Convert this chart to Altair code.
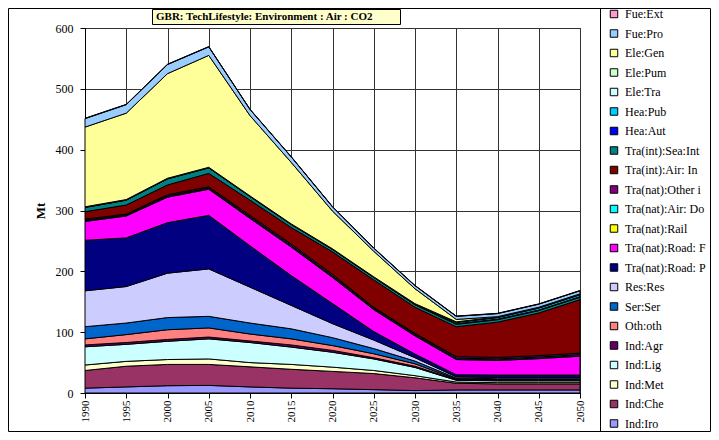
import altair as alt
import pandas as pd

years = [1990, 1995, 2000, 2005, 2010, 2015, 2020, 2025, 2030, 2035, 2040, 2045, 2050]

# series, bottom of the stack first
ind_iro = [8, 10, 12, 12.5, 10, 8, 7, 5.5, 4, 5, 5, 5, 5]
ind_che = [29, 34, 35, 34.5, 33, 31, 28.5, 26.5, 21, 11, 10, 10, 10]
ind_met = [9, 8, 8, 9, 7, 8, 7, 5, 3.5, 2, 2, 2, 2]
ind_lig = [30, 28, 30, 33, 33, 28.5, 24.5, 19, 13.5, 3, 3, 3, 3]
ind_agr = [3, 3, 3, 3, 2.5, 3.5, 3, 2, 2, 1, 1, 1, 1]
oth_oth = [10, 13, 16, 15, 11.5, 10, 8, 6.5, 4, 1, 1, 1, 1]
ser_ser = [20, 19, 20, 19, 18, 16.5, 13, 8.5, 4.5, 1.5, 1.5, 1.5, 1.5]
res_res = [59, 60, 73, 78, 59, 38.5, 23, 14, 5.5, 2, 2, 2, 2]
road_p = [83, 80, 83, 88, 68, 49, 33, 14, 6, 3.5, 4, 4, 4]
road_f = [31, 36, 42, 43, 45, 47, 43, 36, 30, 25, 24, 27, 31]
rail = [1, 1, 1, 1, 1, 1, 1, 1, 1, 1, 1, 1, 1]
air_do = [1, 1, 1, 1, 1.5, 1.5, 1.5, 1.5, 1.5, 1.5, 1.5, 1.5, 1.5]
other_i = [2, 1, 2, 2, 2.5, 2.5, 2.5, 1.5, 1.5, 2.5, 2.5, 2.5, 2.5]
air_in = [12, 15, 16, 22, 25, 27, 37, 45, 43, 49, 58, 70, 88]
sea_int = [7, 8, 10, 9, 6, 5, 4, 4, 4, 4, 4, 4, 4]
hea_aut = [0.3, 0.3, 0.3, 0.3, 0.3, 0.3, 0.3, 0.3, 0.5, 1, 1, 1, 1]
hea_pub = [0.3, 0.3, 0.3, 0.3, 0.3, 0.3, 0.3, 0.3, 1, 2, 2.5, 3, 3]
ele_tra = [0.2, 0.2, 0.2, 0.2, 0.2, 0.2, 0.2, 0.2, 0.2, 0.5, 0.5, 0.5, 0.5]
ele_pum = [0.3, 0.2, 0.2, 0.2, 0.2, 0.2, 0.2, 0.2, 0.2, 0.5, 0.5, 0.5, 0.5]
ele_gen = [131, 142, 172, 184, 132, 101, 62, 42, 24.5, 4, 0.5, 0.5, 0.5]
fue_pro = [14, 14, 15, 14, 10, 9, 7, 5, 5, 5, 5, 5, 5]
fue_ext = [0.5, 0.5, 0.5, 0.5, 0.5, 0.5, 0.5, 0.5, 0.5, 0.5, 0.5, 0.5, 0.5]

names = ["Ind:Iro", "Ind:Che", "Ind:Met", "Ind:Lig", "Ind:Agr", "Oth:oth", "Ser:Ser",
         "Res:Res", "Tra(nat):Road: P", "Tra(nat):Road: F", "Tra(nat):Rail",
         "Tra(nat):Air: Do", "Tra(nat):Other i", "Tra(int):Air: In", "Tra(int):Sea:Int",
         "Hea:Aut", "Hea:Pub", "Ele:Tra", "Ele:Pum", "Ele:Gen", "Fue:Pro", "Fue:Ext"]
colors = ["#9999FF", "#993366", "#FFFFCC", "#CCFFFF", "#660066", "#FF8080", "#0066CC",
          "#CCCCFF", "#000080", "#FF00FF", "#FFFF00", "#00FFFF", "#800080", "#800000",
          "#008080", "#0000FF", "#00CCFF", "#CCFFFF", "#CCFFCC", "#FFFF99", "#99CCFF", "#FF99CC"]
series = [ind_iro, ind_che, ind_met, ind_lig, ind_agr, oth_oth, ser_ser, res_res, road_p,
          road_f, rail, air_do, other_i, air_in, sea_int, hea_aut, hea_pub, ele_tra,
          ele_pum, ele_gen, fue_pro, fue_ext]

title_text = "GBR: TechLifestyle: Environment : Air : CO2"

rows = []
for i, (n, vals) in enumerate(zip(names, series)):
    for y, v in zip(years, vals):
        rows.append({"year": y, "series": n, "value": v, "idx": i})
df = pd.DataFrame(rows)

SERIF = "Liberation Serif"

areas = alt.Chart(df).mark_area(stroke="black", strokeWidth=1, opacity=1, interpolate="linear").encode(
    x=alt.X("year:Q", scale=alt.Scale(domain=[1990, 2050], nice=False, zero=False),
            axis=alt.Axis(values=years, format="d", labelAngle=270, labelFont=SERIF,
                          labelFontSize=11, labelPadding=2, tickSize=5, tickColor="black",
                          domainColor="black", gridColor="#333333", gridWidth=1,
                          labelColor="black", title=None)),
    y=alt.Y("value:Q", stack="zero", scale=alt.Scale(domain=[0, 600], nice=False),
            axis=alt.Axis(values=[0, 100, 200, 300, 400, 500, 600], labelFont=SERIF,
                          labelFontSize=12, labelPadding=7, tickSize=5, tickColor="black",
                          domainColor="black", gridColor="#333333", gridWidth=1,
                          labelColor="black", title="Mt", titleFont=SERIF, titleFontSize=13,
                          titleFontWeight="bold", titleColor="black", titlePadding=8)),
    color=alt.Color("series:N",
                    scale=alt.Scale(domain=names[::-1], range=colors[::-1]),
                    legend=alt.Legend(orient="none", legendX=523, legendY=-20, title=None,
                                      symbolType="square", symbolSize=56,
                                      symbolStrokeColor="black", symbolStrokeWidth=1,
                                      symbolOpacity=1, labelFont=SERIF, labelFontSize=12,
                                      labelColor="black", rowPadding=7.5, labelOffset=5,
                                      padding=0, labelLimit=200)),
    order=alt.Order("idx:Q", sort="ascending"),
)

one = pd.DataFrame({"t": [title_text]})

frame = alt.Chart(one).mark_rect(fill="transparent", stroke="black", strokeWidth=1).encode(
    x=alt.value(-76.5), x2=alt.value(625.5), y=alt.value(-19.5), y2=alt.value(403.5))
divider = alt.Chart(one).mark_rule(color="black", strokeWidth=1).encode(
    x=alt.value(515.5), y=alt.value(-19.5), y2=alt.value(403.5))
tbox = alt.Chart(one).mark_rect(fill="#FFFFCC", stroke="black", strokeWidth=1).encode(
    x=alt.value(67.5), x2=alt.value(315.5), y=alt.value(-18.5), y2=alt.value(-3.5))
ttext = alt.Chart(one).mark_text(align="left", baseline="middle", font=SERIF, fontSize=11,
                                 fontWeight="bold", color="black").encode(
    x=alt.value(71), y=alt.value(-11), text="t:N")

chart = alt.layer(areas, frame, divider, tbox, ttext).properties(
    width=495, height=365,
    autosize=alt.AutoSizeParams(type="none"),
    padding={"left": 77, "top": 20, "right": 131, "bottom": 39},
    background="white",
).configure_view(stroke="#333333", strokeWidth=1
).configure_legend(labelFont=SERIF, labelFontSize=12
).configure_axis(labelFont=SERIF, titleFont=SERIF)

chart.save("out.html", embed_options={"renderer": "svg", "actions": False})
